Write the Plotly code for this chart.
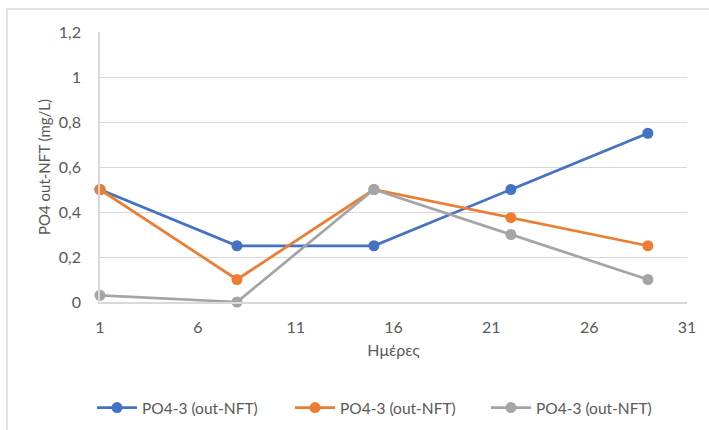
import plotly.graph_objects as go

days = [1, 8, 15, 22, 29]
series_names = ["PO4-3 (out-NFT)", "PO4-3 (out-NFT)", "PO4-3 (out-NFT)"]
blue_vals = [0.5, 0.25, 0.25, 0.5, 0.75]
orange_vals = [0.5, 0.1, 0.5, 0.375, 0.25]
gray_vals = [0.03, 0.0, 0.5, 0.3, 0.1]
colors = ["#4472C4", "#ED7D31", "#A5A5A5"]
x_ticks = [1, 6, 11, 16, 21, 26, 31]
y_ticks = [0, 0.2, 0.4, 0.6, 0.8, 1, 1.2]
y_tick_text = ["0", "0,2", "0,4", "0,6", "0,8", "1", "1,2"]

FONT = "Lato"
TXT = "#595959"
GRID = "#D9D9D9"

L, R, T, B = 100, 22, 32, 128
W, H = 709, 430
pw = W - L - R
ph = H - T - B

legend_ids = ["legend", "legend2", "legend3"]
legend_x_px = [92, 290, 486]

fig = go.Figure()
for name, vals, c, lid in zip(series_names, [blue_vals, orange_vals, gray_vals], colors, legend_ids):
    fig.add_trace(go.Scatter(
        x=days, y=vals, mode="lines+markers", name=name,
        line=dict(color=c, width=2.75),
        marker=dict(color=c, size=11),
        cliponaxis=False, legend=lid,
    ))

legend_common = dict(orientation="h", xref="container", yref="container",
                     xanchor="left", y=1 - 408 / H, yanchor="middle",
                     font=dict(family=FONT, size=15.5, color=TXT), itemwidth=40,
                     bgcolor="rgba(0,0,0,0)")
legend_layout = {lid: dict(legend_common, x=px / W) for lid, px in zip(legend_ids, legend_x_px)}

fig.update_layout(
    width=W, height=H,
    margin=dict(l=L, r=R, t=T, b=B, autoexpand=False),
    paper_bgcolor="white", plot_bgcolor="white",
    font=dict(family=FONT, size=16, color=TXT),
    showlegend=True,
    xaxis=dict(range=[1, 31], tickvals=x_ticks, ticktext=[str(v) for v in x_ticks],
               showgrid=False, zeroline=False, showline=True, linecolor=GRID, linewidth=1.5,
               ticks="", ticklabelstandoff=10,
               title=dict(text="Ημέρες", font=dict(family=FONT, size=16, color=TXT), standoff=10),
               tickfont=dict(family=FONT, size=16, color=TXT)),
    yaxis=dict(range=[0, 1.2], tickvals=y_ticks, ticktext=y_tick_text,
               showgrid=True, gridcolor=GRID, gridwidth=1.2, zeroline=False,
               showline=True, linecolor=GRID, linewidth=1.5, ticks="", ticklabelstandoff=14,
               title=dict(text="PO4 out-NFT (mg/L)", font=dict(family=FONT, size=15, color=TXT), standoff=5),
               tickfont=dict(family=FONT, size=16, color=TXT)),
    **legend_layout,
)

# chart frame
fig.add_shape(type="rect", xref="paper", yref="paper",
              x0=(7 - L) / pw, x1=(W + 5 - L) / pw,
              y0=((T + ph) - (H + 5)) / ph, y1=((T + ph) - 9) / ph,
              line=dict(color=GRID, width=1.5), fillcolor="rgba(0,0,0,0)", layer="below")

fig.write_html("out.html")
